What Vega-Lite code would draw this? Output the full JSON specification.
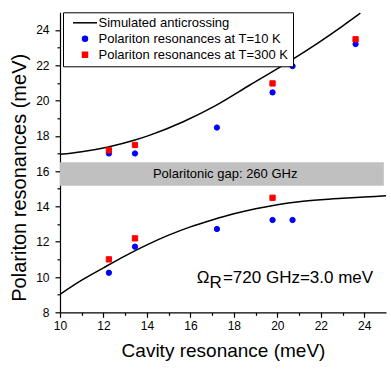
{
  "$schema": "https://vega.github.io/schema/vega-lite/v6.json",
  "width": 326,
  "height": 300,
  "autosize": "none",
  "padding": {"left": 60, "top": 12.3, "right": 5, "bottom": 57.7},
  "background": "white",
  "config": {
    "view": {"stroke": null},
    "font": "Liberation Sans",
    "axis": {
      "grid": false,
      "labelFlush": false,
      "labelOverlap": false,
      "domainColor": "black",
      "domainWidth": 1.2,
      "tickColor": "black",
      "tickWidth": 1.2,
      "labelColor": "black",
      "labelFontSize": 12,
      "labelFont": "Liberation Sans",
      "titleFont": "Liberation Sans",
      "titleFontWeight": "normal",
      "titleColor": "black"
    },
    "legend": {
      "orient": "none",
      "legendX": 3,
      "legendY": 0,
      "strokeColor": "black",
      "fillColor": "white",
      "padding": 4,
      "symbolOffset": 11.5,
      "labelOffset": 7,
      "labelFontSize": 13,
      "labelFont": "Liberation Sans",
      "labelColor": "black",
      "labelLimit": 400,
      "rowPadding": 2,
      "symbolSize": 25,
      "symbolStrokeWidth": 1.5
    }
  },
  "datasets": {
    "band": [{"x": 10, "x2": 24.9, "y": 15.17, "y2": 16.5, "label": "Polaritonic gap: 260 GHz", "lx": 17.6, "ly": 15.84}],
    "curve": [
      {"branch": "upper", "series": "Simulated anticrossing", "x": 10, "y": 16.95},
      {"branch": "upper", "series": "Simulated anticrossing", "x": 11, "y": 17.1},
      {"branch": "upper", "series": "Simulated anticrossing", "x": 12.22, "y": 17.37},
      {"branch": "upper", "series": "Simulated anticrossing", "x": 13.45, "y": 17.76},
      {"branch": "upper", "series": "Simulated anticrossing", "x": 14.14, "y": 18.04},
      {"branch": "upper", "series": "Simulated anticrossing", "x": 15.67, "y": 18.8},
      {"branch": "upper", "series": "Simulated anticrossing", "x": 17.2, "y": 19.74},
      {"branch": "upper", "series": "Simulated anticrossing", "x": 18.74, "y": 20.88},
      {"branch": "upper", "series": "Simulated anticrossing", "x": 20.27, "y": 22.01},
      {"branch": "upper", "series": "Simulated anticrossing", "x": 21.95, "y": 23.33},
      {"branch": "upper", "series": "Simulated anticrossing", "x": 23.0, "y": 24.22},
      {"branch": "upper", "series": "Simulated anticrossing", "x": 23.82, "y": 24.95},
      {"branch": "lower", "series": "Simulated anticrossing", "x": 10, "y": 9.02},
      {"branch": "lower", "series": "Simulated anticrossing", "x": 11, "y": 9.82},
      {"branch": "lower", "series": "Simulated anticrossing", "x": 12, "y": 10.52},
      {"branch": "lower", "series": "Simulated anticrossing", "x": 13, "y": 11.2},
      {"branch": "lower", "series": "Simulated anticrossing", "x": 14, "y": 11.82},
      {"branch": "lower", "series": "Simulated anticrossing", "x": 15, "y": 12.37},
      {"branch": "lower", "series": "Simulated anticrossing", "x": 16, "y": 12.84},
      {"branch": "lower", "series": "Simulated anticrossing", "x": 17, "y": 13.23},
      {"branch": "lower", "series": "Simulated anticrossing", "x": 18, "y": 13.58},
      {"branch": "lower", "series": "Simulated anticrossing", "x": 19, "y": 13.87},
      {"branch": "lower", "series": "Simulated anticrossing", "x": 20, "y": 14.1},
      {"branch": "lower", "series": "Simulated anticrossing", "x": 21, "y": 14.27},
      {"branch": "lower", "series": "Simulated anticrossing", "x": 22, "y": 14.38},
      {"branch": "lower", "series": "Simulated anticrossing", "x": 23, "y": 14.46},
      {"branch": "lower", "series": "Simulated anticrossing", "x": 24, "y": 14.53},
      {"branch": "lower", "series": "Simulated anticrossing", "x": 25, "y": 14.6}
    ],
    "points": [
      {"series": "Polariton resonances at T=10 K", "x": 12.25, "y": 17.0},
      {"series": "Polariton resonances at T=10 K", "x": 13.45, "y": 17.0},
      {"series": "Polariton resonances at T=10 K", "x": 17.22, "y": 18.47},
      {"series": "Polariton resonances at T=10 K", "x": 19.78, "y": 20.46},
      {"series": "Polariton resonances at T=10 K", "x": 20.7, "y": 21.95},
      {"series": "Polariton resonances at T=10 K", "x": 23.6, "y": 23.2},
      {"series": "Polariton resonances at T=10 K", "x": 12.25, "y": 10.24},
      {"series": "Polariton resonances at T=10 K", "x": 13.45, "y": 11.72},
      {"series": "Polariton resonances at T=10 K", "x": 17.22, "y": 12.72},
      {"series": "Polariton resonances at T=10 K", "x": 19.78, "y": 13.23},
      {"series": "Polariton resonances at T=10 K", "x": 20.7, "y": 13.23},
      {"series": "Polariton resonances at T=300 K", "x": 12.25, "y": 17.18},
      {"series": "Polariton resonances at T=300 K", "x": 13.45, "y": 17.48},
      {"series": "Polariton resonances at T=300 K", "x": 19.78, "y": 20.97},
      {"series": "Polariton resonances at T=300 K", "x": 23.6, "y": 23.47},
      {"series": "Polariton resonances at T=300 K", "x": 12.25, "y": 11.0},
      {"series": "Polariton resonances at T=300 K", "x": 13.45, "y": 12.19},
      {"series": "Polariton resonances at T=300 K", "x": 19.78, "y": 14.49}
    ],
    "note": [{"x": 16.874, "y": 9.68}]
  },
  "resolve": {"axis": {"x": "independent", "y": "independent"}},
  "layer": [
    {
      "data": {"name": "band"},
      "mark": {"type": "rect", "color": "#c0c0c0"},
      "encoding": {
        "x": {"field": "x", "type": "quantitative", "scale": {"domain": [10, 25], "nice": false, "zero": false},
          "axis": {"orient": "bottom", "values": [10, 12, 14, 16, 18, 20, 22, 24], "tickSize": 5, "labelPadding": 3, "title": "Cavity resonance (meV)", "titleFontSize": 19, "titlePadding": 10}},
        "x2": {"field": "x2"},
        "y": {"field": "y", "type": "quantitative", "scale": {"domain": [8, 25], "nice": false, "zero": false},
          "axis": {"orient": "left", "values": [8, 10, 12, 14, 16, 18, 20, 22, 24], "tickSize": 5, "labelPadding": 6, "title": "Polariton resonances (meV)", "titleFontSize": 20, "titlePadding": 6, "titleY": 165}},
        "y2": {"field": "y2"}
      }
    },
    {
      "data": {"name": "band"},
      "mark": {"type": "text", "fontSize": 13, "align": "center", "baseline": "middle", "color": "black"},
      "encoding": {
        "x": {"field": "lx", "type": "quantitative",
          "axis": {"orient": "bottom", "values": [11, 13, 15, 17, 19, 21, 23], "tickSize": 3, "labels": false, "domain": false, "title": null}},
        "y": {"field": "ly", "type": "quantitative",
          "axis": {"orient": "left", "values": [9, 11, 13, 15, 17, 19, 21, 23], "tickSize": 3, "labels": false, "domain": false, "title": null}},
        "text": {"field": "label"}
      }
    },
    {
      "data": {"name": "curve"},
      "mark": {"type": "line", "strokeWidth": 1.5, "interpolate": "monotone", "clip": true},
      "encoding": {
        "x": {"field": "x", "type": "quantitative", "axis": null},
        "y": {"field": "y", "type": "quantitative", "axis": null},
        "detail": {"field": "branch"},
        "stroke": {"field": "series", "type": "nominal", "title": null,
          "scale": {"domain": ["Simulated anticrossing", "Polariton resonances at T=10 K", "Polariton resonances at T=300 K"], "range": ["black", "#0000ff", "#ff0000"]}}
      }
    },
    {
      "data": {"name": "points"},
      "mark": {"type": "point", "filled": true, "size": 28, "strokeWidth": 1, "opacity": 1},
      "encoding": {
        "x": {"field": "x", "type": "quantitative", "axis": null},
        "y": {"field": "y", "type": "quantitative", "axis": null},
        "stroke": {"field": "series", "type": "nominal", "title": null,
          "scale": {"domain": ["Simulated anticrossing", "Polariton resonances at T=10 K", "Polariton resonances at T=300 K"], "range": ["black", "#0000ff", "#ff0000"]}},
        "fill": {"field": "series", "type": "nominal", "title": null,
          "scale": {"domain": ["Simulated anticrossing", "Polariton resonances at T=10 K", "Polariton resonances at T=300 K"], "range": ["black", "#0000ff", "#ff0000"]}},
        "shape": {"field": "series", "type": "nominal", "title": null,
          "scale": {"domain": ["Simulated anticrossing", "Polariton resonances at T=10 K", "Polariton resonances at T=300 K"], "range": ["M-4.8,0H4.8", "circle", "square"]}}
      }
    },
    {
      "data": {"name": "note"},
      "mark": {"type": "text", "text": "Ω", "fontSize": 17, "align": "right", "baseline": "alphabetic", "color": "black"},
      "encoding": {
        "x": {"field": "x", "type": "quantitative", "axis": null},
        "y": {"field": "y", "type": "quantitative", "axis": null}
      }
    },
    {
      "data": {"name": "note"},
      "mark": {"type": "text", "text": "R", "fontSize": 17, "align": "left", "baseline": "alphabetic", "dy": 5, "color": "black"},
      "encoding": {
        "x": {"field": "x", "type": "quantitative", "axis": null},
        "y": {"field": "y", "type": "quantitative", "axis": null}
      }
    },
    {
      "data": {"name": "note"},
      "mark": {"type": "text", "text": "=720 GHz=3.0 meV", "fontSize": 17, "align": "left", "baseline": "alphabetic", "dx": 13.5, "color": "black"},
      "encoding": {
        "x": {"field": "x", "type": "quantitative", "axis": null},
        "y": {"field": "y", "type": "quantitative", "axis": null}
      }
    }
  ]
}
